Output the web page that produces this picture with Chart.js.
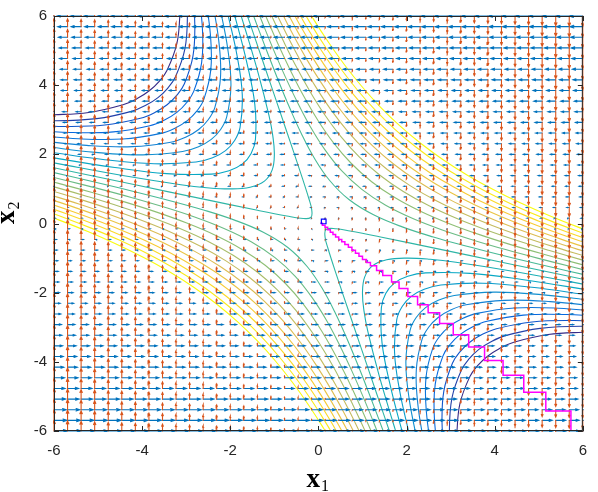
<!DOCTYPE html>
<html lang="en">
<head>
<meta charset="UTF-8">
<title>Coordinate descent on a saddle</title>
<style>
  html, body { margin: 0; padding: 0; background: #ffffff; }
  #chart { display: block; }
</style>
</head>
<body>
<canvas id="chart" width="598" height="492"></canvas>
<script src="https://cdn.jsdelivr.net/npm/chart.js"></script>
<script>
// quiver grid (same values on both axes)
const gridVals = [-6.000,-5.692,-5.385,-5.077,-4.769,-4.462,-4.154,-3.846,-3.538,-3.231,-2.923,-2.615,-2.308,-2.000,-1.692,-1.385,-1.077,-0.769,-0.462,-0.154,
                  0.154,0.462,0.769,1.077,1.385,1.692,2.000,2.308,2.615,2.923,3.231,3.538,3.846,4.154,4.462,4.769,5.077,5.385,5.692,6.000];

// blue arrows (x component): main part by row, small extra by column
const uByRow = [0.270,0.256,0.242,0.228,0.215,0.201,0.187,0.173,0.159,0.145,0.132,0.118,0.104,0.090,0.076,0.062,0.048,0.035,0.021,0.007,
                -0.007,-0.021,-0.035,-0.048,-0.062,-0.076,-0.090,-0.104,-0.118,-0.132,-0.145,-0.159,-0.173,-0.187,-0.201,-0.215,-0.228,-0.242,-0.256,-0.270];
const uByCol = [0.036,0.034,0.032,0.030,0.029,0.027,0.025,0.023,0.021,0.019,0.018,0.016,0.014,0.012,0.010,0.008,0.006,0.005,0.003,0.001,
                -0.001,-0.003,-0.005,-0.006,-0.008,-0.010,-0.012,-0.014,-0.016,-0.018,-0.019,-0.021,-0.023,-0.025,-0.027,-0.029,-0.030,-0.032,-0.034,-0.036];
// orange arrows (y component): main part by column, small extra by row
const vByCol = [0.270,0.256,0.242,0.228,0.215,0.201,0.187,0.173,0.159,0.145,0.132,0.118,0.104,0.090,0.076,0.062,0.048,0.035,0.021,0.007,
                -0.007,-0.021,-0.035,-0.048,-0.062,-0.076,-0.090,-0.104,-0.118,-0.132,-0.145,-0.159,-0.173,-0.187,-0.201,-0.215,-0.228,-0.242,-0.256,-0.270];
const vByRow = [0.036,0.034,0.032,0.030,0.029,0.027,0.025,0.023,0.021,0.019,0.018,0.016,0.014,0.012,0.010,0.008,0.006,0.005,0.003,0.001,
                -0.001,-0.003,-0.005,-0.006,-0.008,-0.010,-0.012,-0.014,-0.016,-0.018,-0.019,-0.021,-0.023,-0.025,-0.027,-0.029,-0.030,-0.032,-0.034,-0.036];

// contour levels, lowest (dark blue) to highest (yellow)
const contourLevels = [-14.73,-13.26,-11.79,-10.32,-8.85,-7.38,-5.91,-4.44,-2.97,-1.50,-0.03,
                       1.44,2.91,4.38,5.85,7.32,8.79,10.26,11.73,13.20,14.67,16.14];

// one branch per level (upper-left for the low levels, upper-right for the high ones);
// the picture is point-symmetric about the origin, the other branch is the same one turned
const contourLines = [
  [[-6.135,3.135],[-5.211,3.211],[-4.434,3.434],[-4.112,3.612],[-3.838,3.838],[-3.612,4.112],[-3.434,4.434],[-3.211,5.211],[-3.135,6.135]],
  [[-7.026,3.026],[-5.973,2.973],[-5.032,3.032],[-4.243,3.243],[-3.917,3.417],[-3.641,3.641],[-3.417,3.917],[-3.243,4.243],[-3.032,5.032],[-2.973,5.973],[-3.026,7.026]],
  [[-6.878,2.878],[-5.806,2.806],[-4.846,2.846],[-4.041,3.041],[-3.711,3.211],[-3.434,3.434],[-3.211,3.711],[-3.041,4.041],[-2.846,4.846],[-2.806,5.806],[-2.878,6.878]],
  [[-6.724,2.724],[-5.632,2.632],[-4.650,2.650],[-3.827,2.827],[-3.492,2.992],[-3.212,3.212],[-2.992,3.492],[-2.827,3.827],[-2.650,4.650],[-2.632,5.632],[-2.724,6.724]],
  [[-6.566,2.566],[-5.450,2.450],[-4.442,2.442],[-3.598,2.598],[-3.256,2.756],[-2.975,2.975],[-2.756,3.256],[-2.598,3.598],[-2.442,4.442],[-2.450,5.450],[-2.566,6.566]],
  [[-6.402,2.402],[-5.259,2.259],[-4.222,2.222],[-3.351,2.351],[-3.001,2.501],[-2.717,2.717],[-2.501,3.001],[-2.351,3.351],[-2.222,4.222],[-2.259,5.259],[-2.402,6.402]],
  [[-6.232,2.232],[-5.058,2.058],[-3.985,1.985],[-3.081,2.081],[-2.719,2.219],[-2.431,2.431],[-2.219,2.719],[-2.081,3.081],[-1.985,3.985],[-2.058,5.058],[-2.232,6.232]],
  [[-6.055,2.055],[-4.845,1.845],[-3.728,1.728],[-2.778,1.778],[-2.401,1.901],[-2.107,2.107],[-1.901,2.401],[-1.778,2.778],[-1.728,3.728],[-1.845,4.845],[-2.055,6.055]],
  [[-7.161,2.161],[-5.869,1.869],[-4.618,1.618],[-3.443,1.443],[-2.429,1.429],[-2.027,1.527],[-1.723,1.723],[-1.527,2.027],[-1.429,2.429],[-1.443,3.443],[-1.618,4.618],[-1.869,5.869],[-2.161,7.161]],
  [[-7.000,2.000],[-5.674,1.674],[-4.372,1.372],[-3.121,1.121],[-2.535,1.035],[-2.000,1.000],[-1.549,1.049],[-1.225,1.225],[-1.049,1.549],[-1.000,2.000],[-1.035,2.535],[-1.121,3.121],[-1.372,4.372],[-1.674,5.674],[-2.000,7.000]],
  [[-6.834,1.834],[-5.468,1.468],[-4.104,1.104],[-2.741,0.741],[-1.383,0.383],[-0.716,0.216],[-0.402,0.152],[-0.173,0.173],[-0.152,0.402],[-0.216,0.716],[-0.383,1.383],[-0.741,2.741],[-1.104,4.104],[-1.468,5.468],[-1.834,6.834]],
  [[-1.589,6.411],[-1.364,5.636],[-1.134,4.866],[-0.899,4.101],[-0.653,3.347],[-0.391,2.609],[-0.098,1.902],[0.251,1.251],[0.693,0.693],[1.251,0.251],[1.902,-0.098],[2.609,-0.391],[3.347,-0.653],[4.101,-0.899],[4.866,-1.134],[5.636,-1.364],[6.411,-1.589]],
  [[-1.489,6.511],[-1.252,5.748],[-1.008,4.992],[-0.753,4.247],[-0.482,3.518],[-0.189,2.811],[0.142,2.142],[0.526,1.526],[0.985,0.985],[1.526,0.526],[2.142,0.142],[2.811,-0.189],[3.518,-0.482],[4.247,-0.753],[4.992,-1.008],[5.748,-1.252],[6.511,-1.489]],
  [[-1.394,6.606],[-1.146,5.854],[-0.888,5.112],[-0.618,4.382],[-0.329,3.671],[-0.013,2.987],[0.339,2.339],[0.742,1.742],[1.208,1.208],[1.742,0.742],[2.339,0.339],[2.987,-0.013],[3.671,-0.329],[4.382,-0.618],[5.112,-0.888],[5.854,-1.146],[6.606,-1.394]],
  [[-1.301,6.699],[-1.044,5.956],[-0.775,5.225],[-0.492,4.508],[-0.188,3.812],[0.143,3.143],[0.511,2.511],[0.926,1.926],[1.396,1.396],[1.926,0.926],[2.511,0.511],[3.143,0.143],[3.812,-0.188],[4.508,-0.492],[5.225,-0.775],[5.956,-1.044],[6.699,-1.301]],
  [[-0.946,6.054],[-0.668,5.332],[-0.373,4.627],[-0.057,3.943],[0.286,3.286],[0.665,2.665],[1.088,2.088],[1.562,1.562],[2.088,1.088],[2.665,0.665],[3.286,0.286],[3.943,-0.057],[4.627,-0.373],[5.332,-0.668],[6.054,-0.946]],
  [[-0.852,6.148],[-0.565,5.435],[-0.261,4.739],[0.065,4.065],[0.418,3.418],[0.806,2.806],[1.236,2.236],[1.712,1.712],[2.236,1.236],[2.806,0.806],[3.418,0.418],[4.065,0.065],[4.739,-0.261],[5.435,-0.565],[6.148,-0.852]],
  [[-0.761,6.239],[-0.466,5.534],[-0.154,4.846],[0.180,4.180],[0.542,3.542],[0.937,2.937],[1.372,2.372],[1.849,1.849],[2.372,1.372],[2.937,0.937],[3.542,0.542],[4.180,0.180],[4.846,-0.154],[5.534,-0.466],[6.239,-0.761]],
  [[-0.673,6.327],[-0.371,5.629],[-0.052,4.948],[0.290,4.290],[0.659,3.659],[1.060,3.060],[1.498,2.498],[1.977,1.977],[2.498,1.498],[3.060,1.060],[3.659,0.659],[4.290,0.290],[4.948,-0.052],[5.629,-0.371],[6.327,-0.673]],
  [[-0.587,6.413],[-0.280,5.720],[0.046,5.046],[0.394,4.394],[0.769,3.769],[1.176,3.176],[1.617,2.617],[2.098,2.098],[2.617,1.617],[3.176,1.176],[3.769,0.769],[4.394,0.394],[5.046,0.046],[5.720,-0.280],[6.413,-0.587]],
  [[-0.504,6.496],[-0.191,5.809],[0.141,5.141],[0.495,4.495],[0.875,3.875],[1.285,3.285],[1.730,2.730],[2.211,2.211],[2.730,1.730],[3.285,1.285],[3.875,0.875],[4.495,0.495],[5.141,0.141],[5.809,-0.191],[6.496,-0.504]],
  [[-0.424,6.576],[-0.105,5.895],[0.232,5.232],[0.591,4.591],[0.976,3.976],[1.390,3.390],[1.837,2.837],[2.319,2.319],[2.837,1.837],[3.390,1.390],[3.976,0.976],[4.591,0.591],[5.232,0.232],[5.895,-0.105],[6.576,-0.424]]
];

// coordinate descent iterates (x1 step, then x2 step)
const pathX1 = [0.04,0.09,0.15,0.21,0.27,0.33,0.39,0.46,0.53,0.60,0.68,0.76,0.84,0.92,1.00,1.09,1.18,1.32,1.46,1.66,1.83,2.03,2.25,2.49,2.75,3.06,3.41,3.77,4.19,4.66,5.16,5.73];
const pathX2 = [0.01,-0.05,-0.11,-0.18,-0.25,-0.32,-0.39,-0.46,-0.53,-0.61,-0.69,-0.77,-0.86,-0.95,-1.04,-1.13,-1.22,-1.36,-1.50,-1.69,-1.88,-2.11,-2.35,-2.58,-2.89,-3.22,-3.57,-3.96,-4.39,-4.88,-5.42,-6.05];
const startPoint = [0.12, 0.06];

const axisTicks = [-6, -4, -2, 0, 2, 4, 6];

// ---- colours ----
const parula = ['#352a87','#0363e1','#1485d4','#06a7c6','#38b99e','#92bf73','#d9ba56','#fcce2e','#f9fb0e'];
function parulaAt(t) {
  const p = Math.min(Math.max(t, 0), 1) * (parula.length - 1);
  const i = Math.min(Math.floor(p), parula.length - 2);
  const f = p - i;
  const a = parseInt(parula[i].slice(1), 16), b = parseInt(parula[i + 1].slice(1), 16);
  const mix = s => Math.round(((a >> s) & 255) * (1 - f) + ((b >> s) & 255) * f);
  return `rgb(${mix(16)},${mix(8)},${mix(0)})`;
}

// ---- quiver as broken polylines ----
function quiverData(horizontal) {
  const pts = [];
  gridVals.forEach((y, j) => {
    gridVals.forEach((x, i) => {
      if (horizontal) {
        const u = uByRow[j] + uByCol[i];
        const w = 0.13 * Math.abs(u);
        pts.push({x, y}, {x: x + u, y}, {x, y: null});
        pts.push({x: x + 0.7 * u, y: y + w}, {x: x + u, y}, {x: x + 0.7 * u, y: y - w}, {x, y: null});
      } else {
        const v = vByCol[i] + vByRow[j];
        const w = 0.10 * Math.abs(v);
        pts.push({x, y}, {x, y: y + v}, {x, y: null});
        pts.push({x: x + w, y: y + 0.7 * v}, {x, y: y + v}, {x: x - w, y: y + 0.7 * v}, {x, y: null});
      }
    });
  });
  return pts;
}

const datasets = [];

datasets.push({
  data: [{x: startPoint[0], y: startPoint[1]}],
  showLine: false, pointStyle: 'rect', pointRadius: 3.3, pointBorderWidth: 1.2,
  pointBorderColor: '#0000ff', pointBackgroundColor: 'rgba(0,0,0,0)', order: 0, clip: 0
});

datasets.push({
  data: pathX1.map((x, i) => ({x, y: pathX2[i]})),
  showLine: true, stepped: 'before', borderColor: '#ff00ff', borderWidth: 1.5,
  pointRadius: 0, order: 1, clip: 0
});

datasets.push({
  data: quiverData(false), showLine: true, borderColor: '#d95319', borderWidth: 1.1,
  borderCapStyle: 'round', pointRadius: 0, order: 2, clip: 1
});
datasets.push({
  data: quiverData(true), showLine: true, borderColor: '#0072bd', borderWidth: 1.1,
  borderCapStyle: 'round', pointRadius: 0, order: 3, clip: 1
});

const lo = contourLevels[0], hi = contourLevels[contourLevels.length - 1];
contourLines.forEach((line, k) => {
  const color = parulaAt((contourLevels[k] - lo) / (hi - lo));
  const branch = line.map(([x, y]) => ({x, y}));
  const turned = line.map(([x, y]) => ({x: -x, y: -y}));
  [branch, turned].forEach(data => datasets.push({
    data, showLine: true, borderColor: color, borderWidth: 1.1, tension: 0.4,
    pointRadius: 0, order: 4, clip: 0
  }));
});

// ---- frame with inward ticks, and the axis labels ----
const framePlugin = {
  id: 'frame',
  afterDatasetsDraw(chart) {
    const {ctx, chartArea: a, scales: {x, y}} = chart;
    ctx.save();
    ctx.strokeStyle = '#262626';
    ctx.lineWidth = 1;
    ctx.strokeRect(a.left + 0.5, a.top + 0.5, a.right - a.left - 1, a.bottom - a.top - 1);
    ctx.beginPath();
    axisTicks.forEach(v => {
      const px = Math.round(x.getPixelForValue(v)) + 0.5;
      ctx.moveTo(px, a.bottom); ctx.lineTo(px, a.bottom - 5);
      ctx.moveTo(px, a.top); ctx.lineTo(px, a.top + 5);
      const py = Math.round(y.getPixelForValue(v)) + 0.5;
      ctx.moveTo(a.left, py); ctx.lineTo(a.left + 5, py);
      ctx.moveTo(a.right, py); ctx.lineTo(a.right - 5, py);
    });
    ctx.stroke();
    ctx.restore();
  },
  afterDraw(chart) {
    const {ctx, chartArea: a} = chart;
    const cx = (a.left + a.right) / 2;
    ctx.save();
    ctx.fillStyle = '#000000';
    ctx.textBaseline = 'alphabetic';
    ctx.font = 'bold 27px "Liberation Serif", "DejaVu Serif", serif';
    const wx = ctx.measureText('x').width;
    ctx.fillText('x', cx - 12, 487);
    ctx.font = '16px "Liberation Serif", "DejaVu Serif", serif';
    ctx.fillText('1', cx - 12 + wx + 1, 491);
    ctx.translate(14, 224);
    ctx.rotate(-Math.PI / 2);
    ctx.font = 'bold 27px "Liberation Serif", "DejaVu Serif", serif';
    ctx.fillText('x', 0, 0);
    ctx.font = '16px "Liberation Serif", "DejaVu Serif", serif';
    ctx.fillText('2', wx + 1, 5);
    ctx.restore();
  }
};

const tickFont = {family: '"Liberation Sans", Arial, sans-serif', size: 15};

new Chart(document.getElementById('chart'), {
  type: 'scatter',
  data: {datasets},
  options: {
    responsive: false,
    animation: false,
    devicePixelRatio: 1,
    layout: {padding: {left: 0, right: 5, top: 6, bottom: 0}},
    elements: {line: {capBezierPoints: false}},
    plugins: {legend: {display: false}, tooltip: {enabled: false}},
    scales: {
      x: {
        type: 'linear', min: -6, max: 6,
        ticks: {stepSize: 2, font: tickFont, color: '#262626', padding: 11, maxRotation: 0},
        grid: {display: false, drawTicks: false},
        border: {display: false},
        afterFit: s => { s.height = 61; }
      },
      y: {
        type: 'linear', min: -6, max: 6,
        ticks: {stepSize: 2, font: tickFont, color: '#262626', padding: 7},
        grid: {display: false, drawTicks: false},
        border: {display: false},
        afterFit: s => { s.width = 54; }
      }
    }
  },
  plugins: [framePlugin]
});
</script>
</body>
</html>
